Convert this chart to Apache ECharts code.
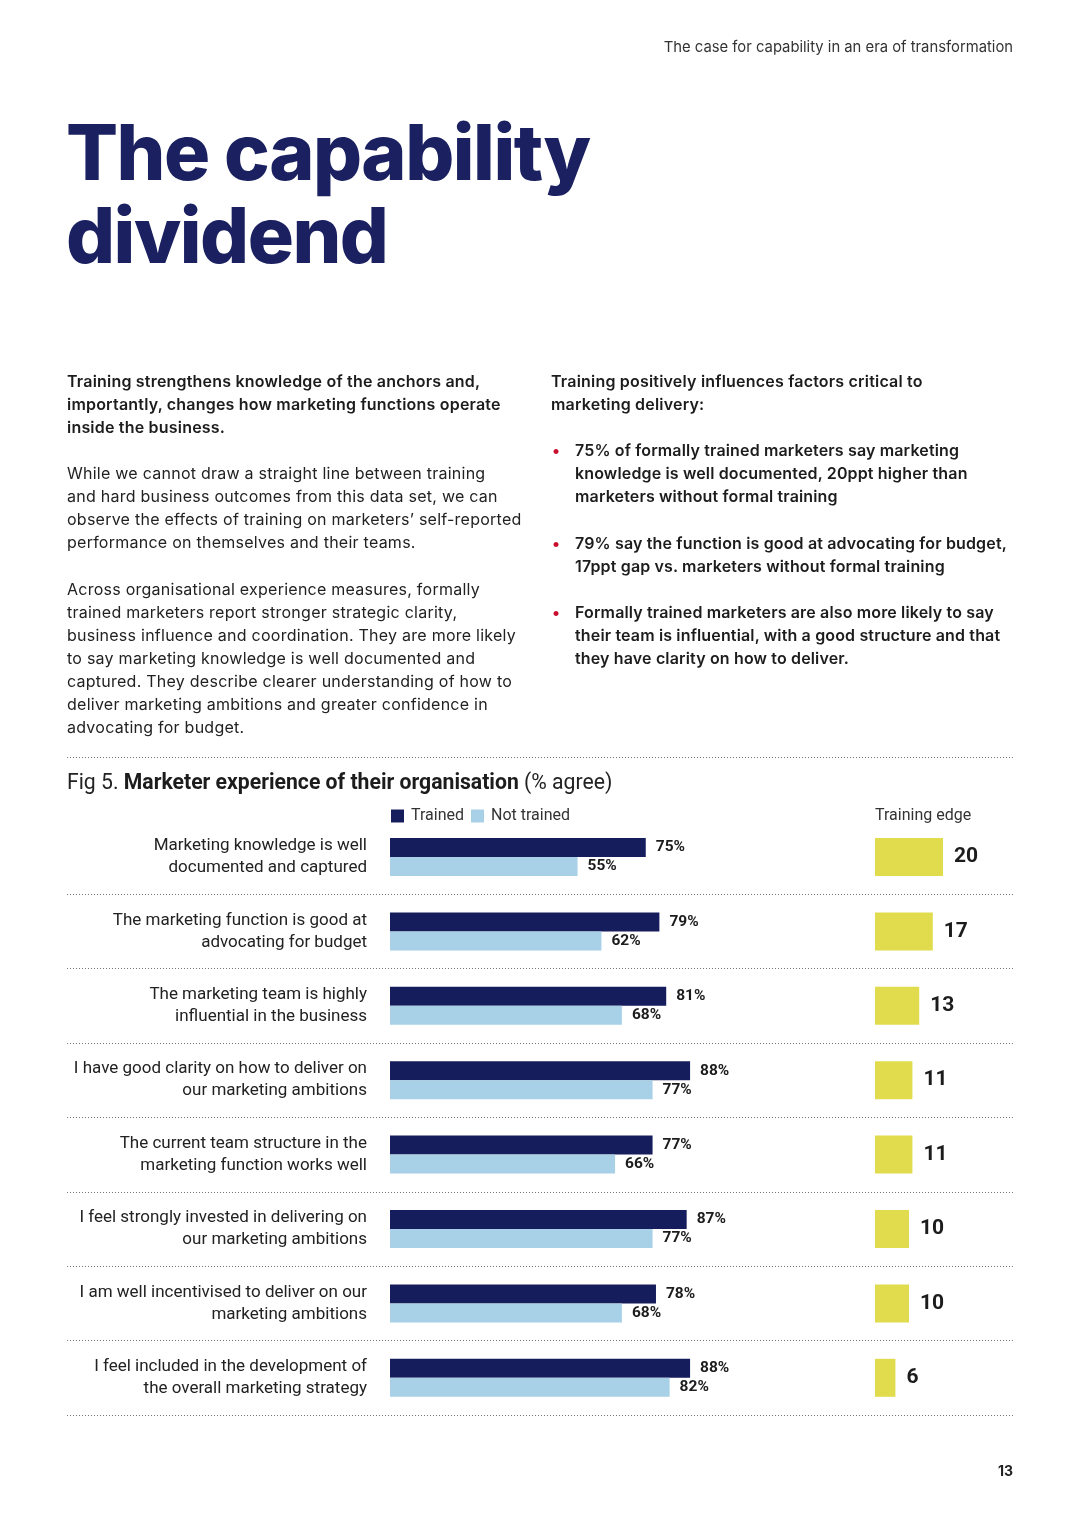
<!DOCTYPE html>
<html>
<head>
<meta charset="utf-8">
<script src="https://cdn.jsdelivr.net/npm/echarts@6/dist/echarts.min.js"></script>
<style>
  html, body { margin:0; padding:0; background:#fff; }
  #page { position:relative; width:1080px; height:1527px; overflow:hidden; font-family: Inter, Roboto, "Noto Sans", sans-serif; color:#222; }
  #chart { position:absolute; left:0; top:0; width:1080px; height:1527px; }
  .t { position:absolute; white-space:nowrap; font-size:16px; line-height:23px; letter-spacing:0.25px; z-index:2; }
  .b { font-weight:600; color:#1c1c1c; letter-spacing:0.2px; }
  .hdr { position:absolute; right:67px; top:38px; font-size:14.8px; color:#333; white-space:nowrap; z-index:2; }
  .title { position:absolute; left:66px; top:111px; font-family: Inter, Roboto, sans-serif; font-weight:800; font-size:77px; line-height:83px; letter-spacing:-1.5px; color:#1a2060; white-space:nowrap; z-index:2; }
  .bul { position:absolute; left:551px; font-size:16px; line-height:23px; font-weight:600; letter-spacing:0.15px; color:#1c1c1c; white-space:nowrap; z-index:2; }
  .bul .dot { position:absolute; left:1px; top:0; color:#c8102e; font-size:16px; }
  .bul .txt { position:absolute; left:24px; top:0; }
  .pg { position:absolute; right:67px; top:1462px; font-size:14px; font-weight:700; z-index:2; }
</style>
</head>
<body>
<div id="page">
  <div id="chart"></div>
  <div class="hdr">The case for capability in an era of transformation</div>
  <div class="title">The capability<br>dividend</div>

  <div class="t b" style="left:67px; top:370px;">Training strengthens knowledge of the anchors and,<br>importantly, changes how marketing functions operate<br>inside the business.</div>
  <div class="t" style="left:67px; top:462px;">While we cannot draw a straight line between training<br>and hard business outcomes from this data set, we can<br>observe the effects of training on marketers’ self-reported<br>performance on themselves and their teams.</div>
  <div class="t" style="left:67px; top:578px;">Across organisational experience measures, formally<br>trained marketers report stronger strategic clarity,<br>business influence and coordination. They are more likely<br>to say marketing knowledge is well documented and<br>captured. They describe clearer understanding of how to<br>deliver marketing ambitions and greater confidence in<br>advocating for budget.</div>

  <div class="t b" style="left:551px; top:370px;">Training positively influences factors critical to<br>marketing delivery:</div>
  <div class="bul" style="top:439px;"><span class="dot">•</span><span class="txt">75% of formally trained marketers say marketing<br>knowledge is well documented, 20ppt higher than<br>marketers without formal training</span></div>
  <div class="bul" style="top:532px;"><span class="dot">•</span><span class="txt">79% say the function is good at advocating for budget,<br>17ppt gap vs. marketers without formal training</span></div>
  <div class="bul" style="top:601px;"><span class="dot">•</span><span class="txt">Formally trained marketers are also more likely to say<br>their team is influential, with a good structure and that<br>they have clarity on how to deliver.</span></div>

  <div class="pg">13</div>
</div>
<script>
const categories = [
  "Marketing knowledge is well\ndocumented and captured",
  "The marketing function is good at\nadvocating for budget",
  "The marketing team is highly\ninfluential in the business",
  "I have good clarity on how to deliver on\nour marketing ambitions",
  "The current team structure in the\nmarketing function works well",
  "I feel strongly invested in delivering on\nour marketing ambitions",
  "I am well incentivised to deliver on our\nmarketing ambitions",
  "I feel included in the development of\nthe overall marketing strategy"
];
const trained = [75, 79, 81, 88, 77, 87, 78, 88];
const notTrained = [55, 62, 68, 77, 66, 77, 68, 82];
const trainingEdge = [20, 17, 13, 11, 11, 10, 10, 6];
const separatorTicks = [1, 2, 3, 4, 5, 6, 7, 8];

const NAVY = '#161d5c', LIGHT = '#a8d0e6', YELLOW = '#e0dc4e';
const FONT = 'Roboto, "Noto Sans", sans-serif';
const gridTop = 819.8, rowH = 74.4, nRows = categories.length;

const chart = echarts.init(document.getElementById('chart'), null, {renderer: 'canvas'});
chart.setOption({
  animation: false,
  textStyle: { fontFamily: FONT },
  title: [
    {
      text: '{a|Fig 5. }{b|Marketer experience of their organisation}{a| (% agree)}',
      left: 67, top: 773, padding: 0,
      textStyle: {
        fontWeight: 'normal',
        rich: {
          a: { fontSize: 21.2, color: '#222', fontWeight: 'normal', fontFamily: FONT },
          b: { fontSize: 21.2, color: '#1c1c1c', fontWeight: 'bold', fontFamily: FONT }
        }
      }
    },
    {
      text: 'Training edge', left: 875, top: 808, padding: 0,
      textStyle: { fontSize: 16, fontWeight: 'normal', color: '#333', fontFamily: FONT }
    }
  ],
  legend: {
    data: ['Trained', 'Not trained'],
    left: 391, top: 808, padding: 0,
    icon: 'rect', itemWidth: 13, itemHeight: 13, itemGap: 7,
    textStyle: { fontSize: 16, color: '#333', fontFamily: FONT, padding: [0, 0, 0, 2] }
  },
  graphic: [
    { type: 'line', shape: { x1: 67, y1: 757.5, x2: 1013, y2: 757.5 },
      style: { stroke: '#777', lineWidth: 1, lineDash: [1, 2] } }
  ],
  grid: [
    { left: 390, width: 341, top: gridTop, height: rowH * nRows },
    { left: 875, width: 136, top: gridTop, height: rowH * nRows },
    { left: 67, width: 946, top: gridTop + rowH, height: rowH * (nRows - 1) }
  ],
  xAxis: [
    { gridIndex: 0, type: 'value', min: 0, max: 100, show: false },
    { gridIndex: 1, type: 'value', min: 0, max: 40, show: false },
    { gridIndex: 2, type: 'value', min: 0, max: 1, show: false }
  ],
  yAxis: [
    { gridIndex: 0, type: 'category', data: categories, inverse: true,
      axisLine: { show: false }, axisTick: { show: false },
      axisLabel: { fontSize: 17, color: '#222', lineHeight: 22, margin: 23, align: 'right',
        verticalAlign: 'middle', padding: [6, 0, 0, 0], backgroundColor: 'rgba(255,255,255,0)',
        fontFamily: FONT } },
    { gridIndex: 1, type: 'category', data: categories, inverse: true, show: false },
    { gridIndex: 2, type: 'value', min: separatorTicks[0], max: separatorTicks[separatorTicks.length - 1],
      interval: 1, inverse: true,
      axisLine: { show: false }, axisTick: { show: false }, axisLabel: { show: false },
      splitLine: { show: true, lineStyle: { color: '#777', width: 1, type: [1, 2] } } }
  ],
  series: [
    { name: 'Trained', type: 'bar', xAxisIndex: 0, yAxisIndex: 0, data: trained,
      barWidth: 19, barGap: '0%', itemStyle: { color: NAVY },
      label: { show: true, position: 'right', distance: 10, formatter: '{c}%',
        fontSize: 15.5, fontWeight: 'bold', color: '#1c1c1c', fontFamily: FONT } },
    { name: 'Not trained', type: 'bar', xAxisIndex: 0, yAxisIndex: 0, data: notTrained,
      barWidth: 19, barGap: '0%', itemStyle: { color: LIGHT },
      label: { show: true, position: 'right', distance: 10, formatter: '{c}%',
        fontSize: 15.5, fontWeight: 'bold', color: '#1c1c1c', fontFamily: FONT } },
    { name: 'Training edge', type: 'bar', xAxisIndex: 1, yAxisIndex: 1, data: trainingEdge,
      barWidth: 38, itemStyle: { color: YELLOW },
      label: { show: true, position: 'right', distance: 11,
        fontSize: 21, fontWeight: 'bold', color: '#1c1c1c', fontFamily: FONT } },
    { name: 'sep', type: 'scatter', xAxisIndex: 2, yAxisIndex: 2, data: [], silent: true }
  ]
});
</script>
</body>
</html>
